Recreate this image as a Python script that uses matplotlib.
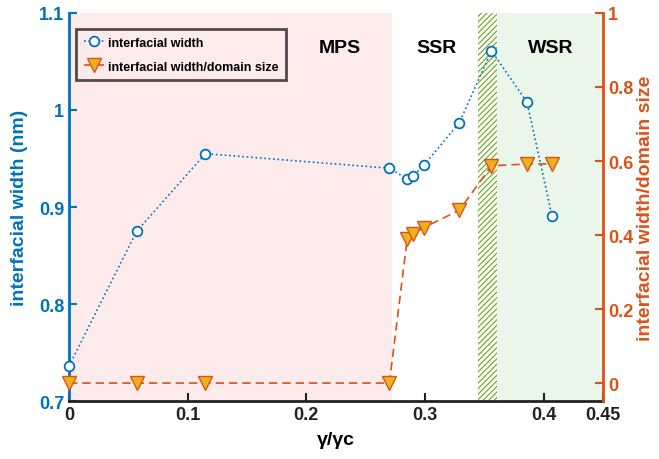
import matplotlib
matplotlib.use("Agg")
import matplotlib.pyplot as plt
import matplotlib.patches as mpatches

plt.rcParams['font.family'] = ['Liberation Sans', 'DejaVu Sans']
plt.rcParams['font.weight'] = 'bold'
plt.rcParams['hatch.linewidth'] = 0.9

# interfacial width (left axis)
x_width = [0.0, 0.057, 0.115, 0.270, 0.285, 0.290, 0.299, 0.329, 0.356, 0.386, 0.407]
width_nm = [0.736, 0.875, 0.955, 0.940, 0.929, 0.932, 0.943, 0.987, 1.061, 1.008, 0.891]

# interfacial width / domain size (right axis)
x_ratio = [0.0, 0.057, 0.115, 0.270, 0.285, 0.290, 0.299, 0.329, 0.356, 0.386, 0.407]
ratio = [0.0, 0.0, 0.0, 0.0, 0.389, 0.402, 0.420, 0.467, 0.587, 0.592, 0.592]

# regime boundaries
mps_end = 0.272
hatch_start, hatch_end = 0.345, 0.361
x_max = 0.45

region_labels = ["MPS", "SSR", "WSR"]
region_label_x = [0.228, 0.310, 0.406]

blue = '#0072BD'
orange = '#D95319'
gold = '#EDB120'

fig = plt.figure(figsize=(6.59, 4.60), dpi=100)
ax = fig.add_axes([0.1047, 0.126, 0.8103, 0.8436])
ax2 = ax.twinx()

ax.set_xlim(0, x_max)
ax.set_ylim(0.7, 1.1)
ax2.set_ylim(-0.0486, 1.0)

# shaded regimes
ax.axvspan(0, mps_end, color='#FDEBEB', lw=0, zorder=0)
ax.axvspan(hatch_end, x_max, color='#E9F6E9', lw=0, zorder=0)
ax.add_patch(mpatches.Rectangle((hatch_start, 0.7), hatch_end - hatch_start, 0.4,
                                facecolor='white', edgecolor='#77AC30', hatch='//////',
                                lw=0, zorder=0))

for lab, lx in zip(region_labels, region_label_x):
    ax.text(lx, 1.064, lab, ha='center', va='center', fontsize=14, fontweight='bold')

l1, = ax.plot(x_width, width_nm, ls=':', color=blue, lw=1.2, marker='o', ms=7,
              mfc='white', mec=blue, mew=1.3, zorder=3, clip_on=False)
l2, = ax2.plot(x_ratio, ratio, ls='--', color=orange, lw=1.2, marker='v', ms=9.5,
               mfc=gold, mec=orange, mew=1.0, zorder=3, dashes=(5, 3), clip_on=False)

# axes styling
ax.set_xticks([0, 0.1, 0.2, 0.3, 0.4, 0.45])
ax.set_xticklabels(['0', '0.1', '0.2', '0.3', '0.4', '0.45'])
ax.set_yticks([0.7, 0.8, 0.9, 1.0, 1.1])
ax.set_yticklabels(['0.7', '0.8', '0.9', '1', '1.1'])
ax2.set_yticks([0, 0.2, 0.4, 0.6, 0.8, 1.0])
ax2.set_yticklabels(['0', '0.2', '0.4', '0.6', '0.8', '1'])

ax.tick_params(axis='x', direction='in', length=6, width=1.5, labelsize=13, colors='#222222')
ax.tick_params(axis='y', direction='in', length=6, width=1.5, labelsize=13,
               colors=blue, labelcolor=blue)
ax2.tick_params(axis='y', direction='in', length=6, width=1.5, labelsize=13,
                colors=orange, labelcolor=orange)
for a in (ax, ax2):
    for lbl in a.get_xticklabels() + a.get_yticklabels():
        lbl.set_fontweight('bold')

for a in (ax, ax2):
    a.spines['top'].set_visible(False)
ax.spines['left'].set_color(blue)
ax.spines['left'].set_linewidth(2)
ax.spines['bottom'].set_color('#222222')
ax.spines['bottom'].set_linewidth(2)
ax.spines['right'].set_visible(False)
ax2.spines['right'].set_color(orange)
ax2.spines['right'].set_linewidth(2)
ax2.spines['left'].set_visible(False)
ax2.spines['bottom'].set_visible(False)

ax.set_xlabel('γ/γc', fontsize=14, fontweight='bold', labelpad=6)
ax.set_ylabel('interfacial width (nm)', fontsize=14, fontweight='bold', color=blue, labelpad=8)
ax2.set_ylabel('interfacial width/domain size', fontsize=14, fontweight='bold',
               color=orange, labelpad=3)

leg = ax2.legend([l1, l2], ['interfacial width', 'interfacial width/domain size'],
                 loc='upper left', bbox_to_anchor=(0.014, 0.958), fontsize=9,
                 frameon=True, fancybox=False, handlelength=1.6, handletextpad=0.3,
                 borderpad=0.6, labelspacing=0.95, borderaxespad=0)
leg.get_frame().set_edgecolor('#222222')
leg.get_frame().set_linewidth(2)
leg.get_frame().set_facecolor('none')
for t in leg.get_texts():
    t.set_fontweight('bold')

fig.savefig('out.png', dpi=100)
